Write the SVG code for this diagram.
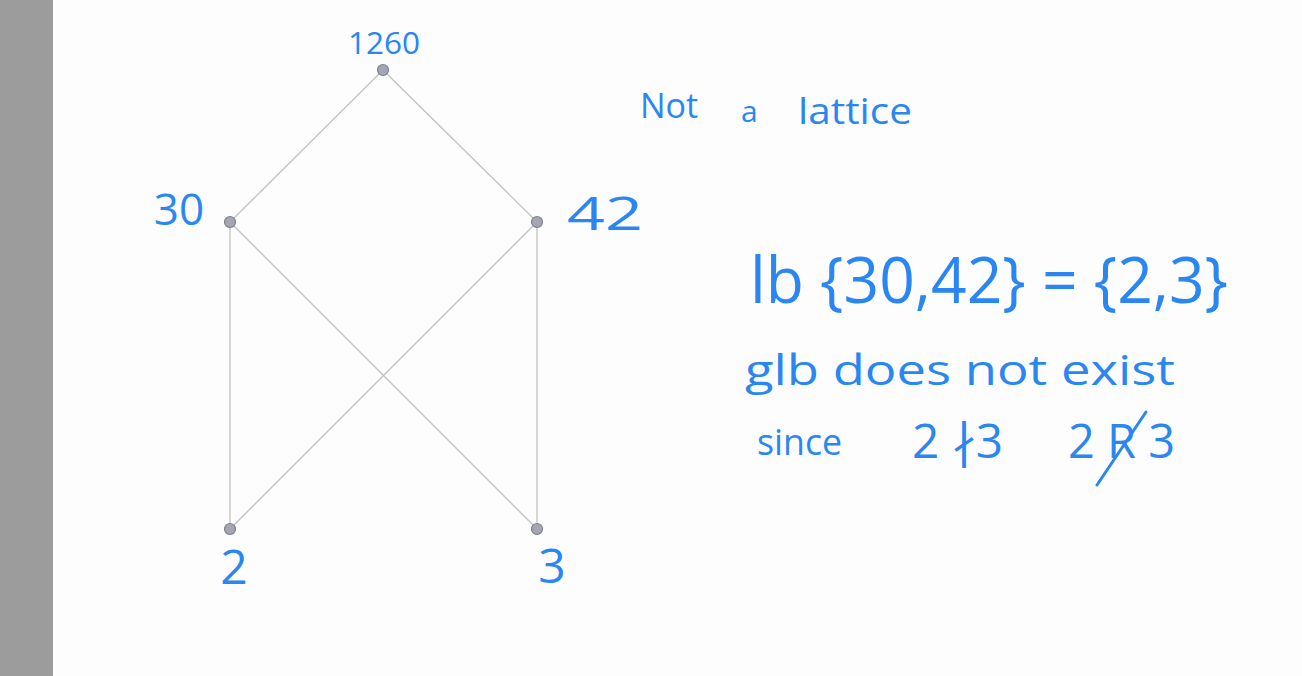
<svg xmlns="http://www.w3.org/2000/svg" width="1302" height="676" viewBox="0 0 1302 676">
<style>
.hw{font-family:"Open Sans","Liberation Sans",sans-serif;fill:#2a87f2;font-weight:400}
.edge{stroke:#c4c4c4;stroke-width:1.4;fill:none}
.node{fill:#a3a7b3;stroke:#7c808c;stroke-width:1.2}
.strike{stroke:#2a87f2;stroke-width:3;stroke-linecap:round;fill:none}
</style>
<rect x="0" y="0" width="1302" height="676" fill="#fdfdfd"/>
<rect x="0" y="0" width="53" height="676" fill="#9c9c9c"/>
<g id="connectors">
<line class="edge" x1="383" y1="70" x2="230" y2="222"/>
<line class="edge" x1="383" y1="70" x2="537" y2="222"/>
<line class="edge" x1="230" y1="222" x2="230" y2="529"/>
<line class="edge" x1="230" y1="222" x2="537" y2="529"/>
<line class="edge" x1="537" y1="222" x2="230" y2="529"/>
<line class="edge" x1="537" y1="222" x2="537" y2="529"/>
</g>
<g id="n1260"><circle class="node" cx="383" cy="70" r="5.5"/><text class="hw" x="384" y="54" font-size="31" text-anchor="middle" textLength="72" lengthAdjust="spacingAndGlyphs">1260</text></g>
<g id="n30"><circle class="node" cx="230" cy="222" r="5.5"/><text class="hw" x="179" y="225" font-size="44" text-anchor="middle">30</text></g>
<g id="n42"><circle class="node" cx="537" cy="222" r="5.5"/><text class="hw" x="567" y="230" font-size="46" textLength="76" lengthAdjust="spacingAndGlyphs">42</text></g>
<g id="n2"><circle class="node" cx="230" cy="529" r="5.5"/><text class="hw" x="234" y="584" font-size="48" text-anchor="middle">2</text></g>
<g id="n3"><circle class="node" cx="537" cy="529" r="5.5"/><text class="hw" x="552" y="583" font-size="48" text-anchor="middle">3</text></g>
<g id="notes">
<text class="hw" x="640" y="118" font-size="34">Not</text>
<text class="hw" x="741" y="122" font-size="30">a</text>
<text class="hw" x="798" y="124" font-size="36" textLength="114" lengthAdjust="spacingAndGlyphs">lattice</text>
<text class="hw" x="750" y="303" font-size="64" textLength="478" lengthAdjust="spacingAndGlyphs">lb {30,42} = {2,3}</text>
<text class="hw" x="745" y="385" font-size="42" textLength="430" lengthAdjust="spacingAndGlyphs">glb does not exist</text>
<text class="hw" x="757" y="455" font-size="36" textLength="85" lengthAdjust="spacingAndGlyphs">since</text>
<text class="hw" x="912" y="458" font-size="48" textLength="91" lengthAdjust="spacingAndGlyphs">2 ∤3</text>
<text class="hw" x="1068" y="458" font-size="48" textLength="107" lengthAdjust="spacingAndGlyphs">2 R 3</text>
<line class="strike" x1="1097" y1="485" x2="1146" y2="412"/>
</g>
</svg>
